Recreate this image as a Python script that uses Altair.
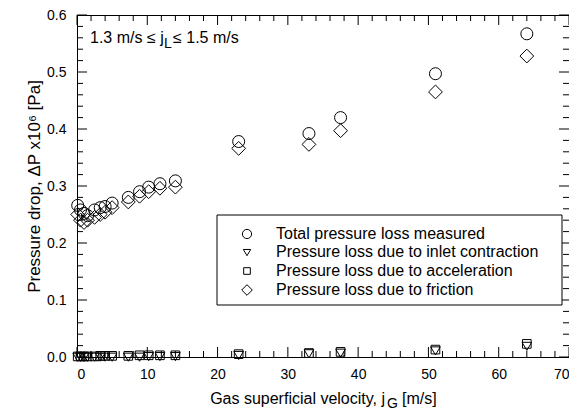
import altair as alt
import pandas as pd

# ---- data ----
jg = [0.1, 0.5, 1.0, 1.5, 2.5, 3.3, 4.0, 5.0, 7.3, 8.9, 10.2, 11.8, 14.0, 23.0, 33.0, 37.5, 51.0, 64.0]
total = [0.266, 0.258, 0.252, 0.248, 0.258, 0.262, 0.264, 0.270, 0.280, 0.290, 0.298, 0.304, 0.309, 0.378, 0.392, 0.420, 0.497, 0.567]
contraction = [0.001, 0.001, 0.001, 0.001, 0.001, 0.001, 0.001, 0.001, 0.001, 0.001, 0.002, 0.002, 0.002, 0.004, 0.007, 0.008, 0.012, 0.020]
acceleration = [0.001, 0.001, 0.001, 0.001, 0.001, 0.002, 0.002, 0.002, 0.002, 0.003, 0.003, 0.003, 0.003, 0.005, 0.007, 0.009, 0.013, 0.023]
friction = [0.250, 0.240, 0.236, 0.240, 0.245, 0.250, 0.254, 0.262, 0.272, 0.282, 0.290, 0.296, 0.298, 0.366, 0.373, 0.397, 0.465, 0.528]

series_names = [
    "Total pressure loss measured",
    "Pressure loss due to inlet contraction",
    "Pressure loss due to acceleration",
    "Pressure loss due to friction",
]
# unit-box symbol outlines (circle, down triangle, square, diamond)
series_shapes = [
    "circle",
    "M-0.8,-0.55L0.8,-0.55L0,0.8Z",
    "M-0.72,-0.72L0.72,-0.72L0.72,0.72L-0.72,0.72Z",
    "M0,-1.15L1.15,0L0,1.15L-1.15,0Z",
]

x_major = [0, 10, 20, 30, 40, 50, 60, 70]
x_minor = [v for v in range(0, 71, 2) if v % 10 != 0]
y_major = [0.0, 0.1, 0.2, 0.3, 0.4, 0.5, 0.6]
y_minor = [round(i * 0.02, 2) for i in range(31) if i % 5 != 0]

W, H = 492, 342
FONT = "Liberation Sans"

rows = []
for name, vals in zip(series_names, [total, contraction, acceleration, friction]):
    for x, y in zip(jg, vals):
        rows.append({"jg": x, "dp": y, "series": name})
df = pd.DataFrame(rows)

xscale = alt.Scale(domain=[0, 70], nice=False, zero=False)
yscale = alt.Scale(domain=[0, 0.6], nice=False, zero=False)

points = alt.Chart(df).mark_point(filled=False, color="black", strokeWidth=1, opacity=1, size=144).encode(
    x=alt.X("jg:Q", scale=xscale,
            axis=alt.Axis(values=x_major, ticks=False, domain=False, grid=False,
                          labelFontSize=14, labelPadding=10, labelFont=FONT, labelColor="black",
                          title=None)),
    y=alt.Y("dp:Q", scale=yscale,
            axis=alt.Axis(values=y_major, ticks=False, domain=False, grid=False, format=".1f",
                          labelFontSize=14, labelPadding=11, labelFont=FONT, labelColor="black",
                          title="Pressure drop, \u0394P x10\u2076 [Pa]", titleFont=FONT,
                          titleFontSize=17, titleFontWeight="normal", titleColor="black",
                          titlePadding=3)),
    shape=alt.Shape("series:N", scale=alt.Scale(domain=series_names, range=series_shapes),
                    legend=None),
)

def tick_layer(vals, axis, side, length):
    d = pd.DataFrame({"v": vals})
    c = alt.Chart(d).mark_rule(color="black", strokeWidth=1)
    if axis == "x":
        if side == "bottom":
            return c.encode(x=alt.X("v:Q", scale=xscale), y=alt.value(H), y2=alt.value(H - length))
        return c.encode(x=alt.X("v:Q", scale=xscale), y=alt.value(0), y2=alt.value(length))
    if side == "left":
        return c.encode(y=alt.Y("v:Q", scale=yscale), x=alt.value(0), x2=alt.value(length))
    return c.encode(y=alt.Y("v:Q", scale=yscale), x=alt.value(W), x2=alt.value(W - length))

ticks = [
    tick_layer(x_major, "x", "bottom", 10), tick_layer(x_minor, "x", "bottom", 6),
    tick_layer(x_major, "x", "top", 10), tick_layer(x_minor, "x", "top", 6),
    tick_layer(y_major, "y", "left", 10), tick_layer(y_minor, "y", "left", 6),
    tick_layer(y_major, "y", "right", 10), tick_layer(y_minor, "y", "right", 6),
]

def txt(s, x, y, size, align="left", baseline="alphabetic"):
    return alt.Chart(pd.DataFrame({"t": [s]})).mark_text(
        align=align, baseline=baseline, font=FONT, fontSize=size, color="black"
    ).encode(text="t:N", x=alt.value(x), y=alt.value(y))

texts = [
    txt("1.3 m/s \u2264 j", 13, 28, 16),
    txt("L", 87, 33, 14),
    txt(" \u2264 1.5 m/s", 96, 28, 16),
    txt("Gas superficial velocity, j", 308, 389, 16, align="right"),
    txt("G", 310, 393, 14),
    txt(" [m/s]", 325, 389, 16),
]

# ---- legend box drawn by hand ----
legend_rows_y = [219, 237, 256, 275]
legend_box = alt.Chart(pd.DataFrame({"k": [0]})).mark_rect(
    fill="white", stroke="black", strokeWidth=1
).encode(x=alt.value(140), x2=alt.value(485), y=alt.value(200), y2=alt.value(290))
legend_parts = [legend_box]
for name, shape, ly in zip(series_names, series_shapes, legend_rows_y):
    legend_parts.append(
        alt.Chart(pd.DataFrame({"k": [0]})).mark_point(
            filled=False, color="black", strokeWidth=1, opacity=1, size=85
        ).encode(x=alt.value(170), y=alt.value(ly), shape=alt.value(shape))
    )
    legend_parts.append(txt(name, 199, ly, 16, baseline="middle"))

chart = alt.layer(*ticks, points, *texts, *legend_parts).properties(
    width=W, height=H,
    background="white",
    autosize=alt.AutoSizeParams(type="none"),
    padding={"left": 69, "top": 7, "right": 0, "bottom": 53},
).configure_view(stroke="black", strokeWidth=1)

chart.save("out.html", embed_options={"renderer": "svg", "actions": False})
